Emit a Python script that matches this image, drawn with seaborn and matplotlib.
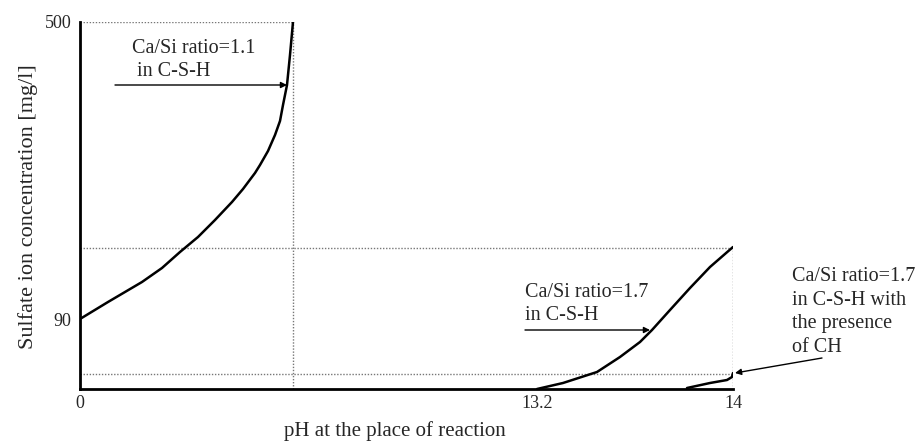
import numpy as np
import pandas as pd
import matplotlib
matplotlib.use("Agg")
import matplotlib.pyplot as plt
import seaborn as sns

# ---- data (schematic coordinates) ----
curve1_x = [0, 28, 62, 82, 100, 118, 135, 152, 163, 175, 180, 188, 195, 200, 203, 207, 210, 213]
curve1_y = [70, 87, 107, 121, 137, 152, 169, 187, 200, 216, 224, 238, 254, 268, 284, 304, 334, 367]
curve2_x = [457, 483, 517, 540, 560, 572, 590, 610, 630, 653]
curve2_y = [0, 6, 17, 32, 47, 59, 79, 101, 122, 142]
curve3_x = [607, 630, 647, 652, 653]
curve3_y = [1, 6, 9, 12, 16]

x_tick_pos = [0, 457, 653]
x_tick_labels = ["0", "13.2", "14"]
y_tick_pos = [70, 367]
y_tick_labels = ["90", "500"]

guide_h = [367, 141, 15]      # dotted horizontal guides
guide_v = [213, 653]          # dotted vertical guides

label1 = "Ca/Si ratio=1.1\n in C-S-H"
label2 = "Ca/Si ratio=1.7\nin C-S-H"
label3 = "Ca/Si ratio=1.7\nin C-S-H with\nthe presence\nof CH"

df = pd.concat([
    pd.DataFrame({"x": curve1_x, "y": curve1_y, "c": "c1"}),
    pd.DataFrame({"x": curve2_x, "y": curve2_y, "c": "c2"}),
    pd.DataFrame({"x": curve3_x, "y": curve3_y, "c": "c3"}),
])

sns.set_theme(style="white")
plt.rcParams["font.family"] = ["Liberation Serif", "DejaVu Serif"]

W, H = 923, 443
fig = plt.figure(figsize=(W / 100, H / 100), dpi=100)
ax = fig.add_axes([80 / W, (H - 389) / H, 653 / W, 367 / H])

sns.lineplot(data=df, x="x", y="y", units="c", estimator=None, color="black",
             lw=1.8, ax=ax, legend=False, sort=False)
for ln in ax.lines:
    ln.set_solid_joinstyle("round")
    ln.set_solid_capstyle("round")

dot = dict(color="#777777", lw=1.0, ls=(0, (1, 1.2)), zorder=1)
ax.plot([0, guide_v[0]], [guide_h[0]] * 2, **dot)
ax.plot([0, guide_v[1]], [guide_h[1]] * 2, **dot)
ax.plot([0, guide_v[1]], [guide_h[2]] * 2, **dot)
ax.plot([guide_v[0]] * 2, [0, guide_h[0]], **dot)
ax.plot([guide_v[1]] * 2, [0, guide_h[1]], **dot)

ax.set_xlim(0, 653)
ax.set_ylim(0, 367)
for s in ["top", "right"]:
    ax.spines[s].set_visible(False)
for s in ["left", "bottom"]:
    ax.spines[s].set_linewidth(2.0)
    ax.spines[s].set_color("black")

ax.set_xticks(x_tick_pos)
ax.set_xticklabels(x_tick_labels, fontsize=13)
ax.set_yticks(y_tick_pos)
ax.set_yticklabels(y_tick_labels, fontsize=13)
ax.tick_params(axis="x", length=0, pad=4)
ax.tick_params(axis="y", length=0, pad=6)
ax.set_xlabel("pH at the place of reaction", fontsize=15)
ax.set_ylabel("Sulfate ion concentration [mg/l]", fontsize=16)
ax.xaxis.set_label_coords((395 - 80) / 653, -(421 - 389) / 367)
ax.yaxis.set_label_coords(-(80 - 38) / 653, (389 - 207) / 367)

arrow = dict(arrowstyle="-|>", color="black", lw=1.0, mutation_scale=9,
             shrinkA=0, shrinkB=0)
ax.annotate("", xy=(207, 304), xytext=(35, 304), arrowprops=arrow)
ax.text(52, 329, label1, fontsize=14.5, va="center", ha="left", linespacing=1.33)

ax.annotate("", xy=(570, 59), xytext=(445, 59), arrowprops=arrow)
ax.text(445, 85, label2, fontsize=14.5, va="center", ha="left", linespacing=1.33)

ax.annotate("", xy=(655, 16), xytext=(742, 31), arrowprops=arrow,
            annotation_clip=False)
ax.text(712, 77, label3, fontsize=14.5, va="center", ha="left",
        linespacing=1.33, clip_on=False)

fig.savefig("out.png", dpi=100)
